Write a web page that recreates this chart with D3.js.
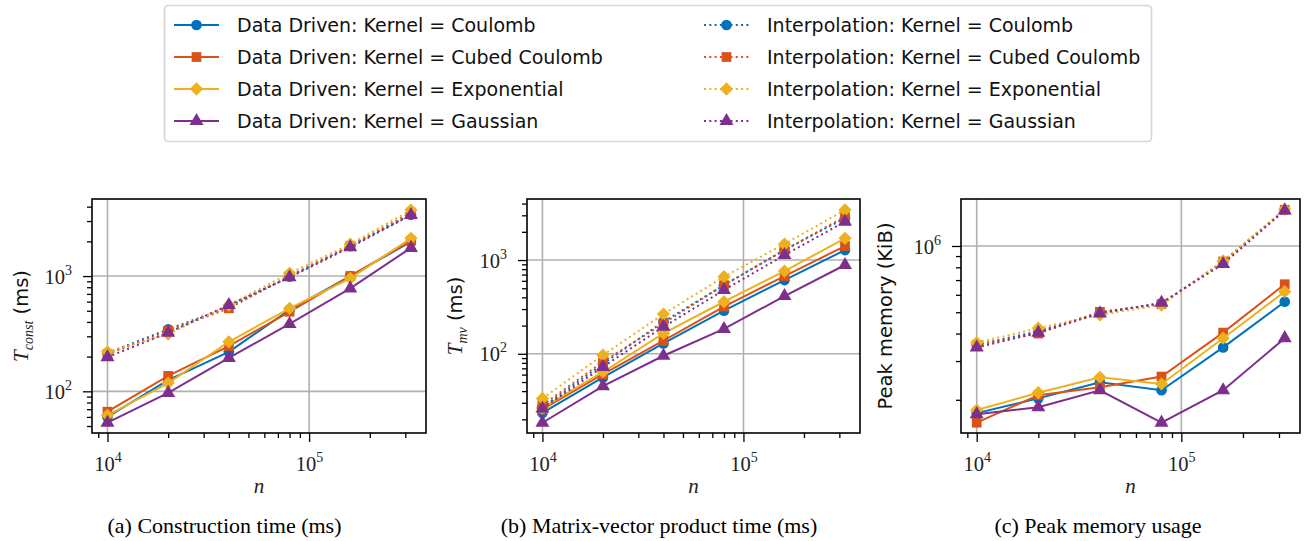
<!DOCTYPE html>
<html>
<head>
<meta charset="utf-8">
<script src="https://cdn.jsdelivr.net/npm/d3@7"></script>
<style>
  body { margin: 0; background: #fff; }
  .tick-label { font-family: 'Liberation Serif', serif; font-size: 20.5px; fill: #222; }
  .axis-label { font-family: 'Liberation Serif', serif; font-size: 21px; fill: #222; }
  .sans-label { font-family: 'DejaVu Sans', sans-serif; font-size: 19.5px; fill: #111; }
  .legend-text { font-family: 'DejaVu Sans', sans-serif; font-size: 19px; fill: #111; }
  .caption { font-family: 'Liberation Serif', serif; font-size: 22px; fill: #000; }
</style>
</head>
<body>
<svg width="1315" height="541"></svg>
<script>
const svg = d3.select('svg');

// problem sizes
const nValues = [1e4, 2e4, 4e4, 8e4, 1.6e5, 3.2e5];
const kernels = ['Coulomb', 'Cubed Coulomb', 'Exponential', 'Gaussian'];
const methods = ['Data Driven', 'Interpolation'];

// construction time (ms), one row per kernel
const constDataDriven = [
  [60, 125, 220, 510, 1000, 1986],
  [66.6, 136, 247, 490, 1000, 2023],
  [62, 118, 269, 525, 955, 2125],
  [53.5, 97, 195, 384, 782, 1757]
];
const constInterp = [
  [215, 345, 540, 990, 1820, 3400],
  [210, 335, 525, 1000, 1830, 3550],
  [220, 314, 560, 1055, 1890, 3735],
  [198, 322, 560, 975, 1775, 3380]
];

// matrix-vector product time (ms)
const mvDataDriven = [
  [23.4, 56, 129, 288, 612, 1278],
  [25.5, 60.7, 138, 318, 675, 1410],
  [26.5, 64, 165, 359, 763, 1703],
  [18.4, 45.2, 95.3, 184, 413, 885]
];
const mvInterp = [
  [27, 78, 220, 540, 1280, 2800],
  [28.4, 82, 211, 541, 1278, 2900],
  [33.4, 96.8, 265, 664, 1482, 3420],
  [26.1, 72.6, 194, 479, 1130, 2565]
];

// peak memory (KiB)
const memDataDriven = [
  [1.74e5, 2.03e5, 2.40e5, 2.21e5, 3.46e5, 5.58e5],
  [1.574e5, 2.10e5, 2.28e5, 2.55e5, 4.04e5, 6.7e5],
  [1.797e5, 2.153e5, 2.53e5, 2.36e5, 3.81e5, 6.2e5],
  [1.72e5, 1.85e5, 2.21e5, 1.574e5, 2.21e5, 3.81e5]
];
const memInterp = [
  [3.55e5, 4.1e5, 4.98e5, 5.47e5, 8.45e5, 1.46e6],
  [3.55e5, 4.0e5, 5.02e5, 5.45e5, 8.5e5, 1.46e6],
  [3.636e5, 4.23e5, 4.87e5, 5.39e5, 8.55e5, 1.47e6],
  [3.46e5, 4.04e5, 4.94e5, 5.52e5, 8.28e5, 1.45e6]
];

const colors = ['#0072BD', '#D95319', '#EDB120', '#7E2F8E'];
const symbols = [
  { type: d3.symbolCircle, size: 90, rotate: 0 },
  { type: d3.symbolSquare, size: 95, rotate: 0 },
  { type: d3.symbolSquare, size: 88, rotate: 45 },
  { type: d3.symbolTriangle, size: 85, rotate: 0 }
];

const plotTop = 199;
const plotBottom = 433;
const xDomain = [8380, 3.8e5];

const isMajor = v => Math.abs(Math.log10(v) - Math.round(Math.log10(v))) < 1e-9;

const powLabel = (sel, v) => {
  sel.append('tspan').text('10');
  sel.append('tspan')
    .attr('dy', -9)
    .style('font-size', '14px')
    .text(Math.round(Math.log10(v)));
};

const render = ({ left, right, yDomain, dd, interp, yLabel, caption }) => {
  const innerWidth = right - left;
  const innerHeight = plotBottom - plotTop;

  const xScale = d3.scaleLog().domain(xDomain).range([0, innerWidth]);
  const yScale = d3.scaleLog().domain(yDomain).range([innerHeight, 0]);

  const g = svg.append('g')
    .attr('transform', `translate(${left}, ${plotTop})`);

  const xTicks = xScale.ticks();
  const yTicks = yScale.ticks();

  // grid on major ticks
  g.selectAll('.gx').data(xTicks.filter(isMajor)).enter().append('line')
    .attr('x1', d => xScale(d)).attr('x2', d => xScale(d))
    .attr('y1', 0).attr('y2', innerHeight)
    .attr('stroke', '#b0b0b0').attr('stroke-width', 1.6);
  g.selectAll('.gy').data(yTicks.filter(isMajor)).enter().append('line')
    .attr('y1', d => yScale(d)).attr('y2', d => yScale(d))
    .attr('x1', 0).attr('x2', innerWidth)
    .attr('stroke', '#b0b0b0').attr('stroke-width', 1.6);

  // axes
  const xAxisGroup = g.append('g')
    .attr('transform', `translate(0, ${innerHeight})`)
    .call(d3.axisBottom(xScale).tickValues(xTicks).tickFormat('').tickSizeOuter(0));
  xAxisGroup.selectAll('.domain').remove();
  xAxisGroup.selectAll('.tick line')
    .attr('y2', d => isMajor(d) ? 9 : 5)
    .attr('stroke', '#000').attr('stroke-width', 1.3);
  xAxisGroup.selectAll('.tick').filter(isMajor).append('text')
    .attr('class', 'tick-label')
    .attr('y', 38)
    .attr('text-anchor', 'middle')
    .each(function (d) { powLabel(d3.select(this), d); });

  const yAxisGroup = g.append('g')
    .call(d3.axisLeft(yScale).tickValues(yTicks).tickFormat('').tickSizeOuter(0));
  yAxisGroup.selectAll('.domain').remove();
  yAxisGroup.selectAll('.tick line')
    .attr('x2', d => isMajor(d) ? -9 : -5)
    .attr('stroke', '#000').attr('stroke-width', 1.3);
  yAxisGroup.selectAll('.tick').filter(isMajor).append('text')
    .attr('class', 'tick-label')
    .attr('x', -20)
    .attr('dy', '0.35em')
    .attr('text-anchor', 'end')
    .each(function (d) { powLabel(d3.select(this), d); });

  // series: data driven first, interpolation on top
  const lineGenerator = d3.line()
    .x((d, i) => xScale(nValues[i]))
    .y(d => yScale(d));

  [dd, interp].forEach((set, m) => {
    set.forEach((values, k) => {
      g.append('path')
        .attr('d', lineGenerator(values))
        .attr('fill', 'none')
        .attr('stroke', colors[k])
        .attr('stroke-width', 2)
        .attr('stroke-dasharray', m === 1 ? '2,3.3' : null);
      const sym = d3.symbol().type(symbols[k].type).size(symbols[k].size);
      g.selectAll(null).data(values).enter().append('path')
        .attr('d', sym)
        .attr('transform', (d, i) =>
          `translate(${xScale(nValues[i])}, ${yScale(d)}) rotate(${symbols[k].rotate})`)
        .attr('fill', colors[k]);
    });
  });

  // frame
  g.append('rect')
    .attr('width', innerWidth).attr('height', innerHeight)
    .attr('fill', 'none').attr('stroke', '#000').attr('stroke-width', 1.6);

  // x label
  g.append('text')
    .attr('class', 'axis-label')
    .attr('x', innerWidth / 2)
    .attr('y', innerHeight + 60)
    .attr('text-anchor', 'middle')
    .style('font-style', 'italic')
    .text('n');

  // y label
  const yl = g.append('text')
    .attr('transform', `translate(${yLabel.x - left}, ${innerHeight / 2}) rotate(-90)`)
    .attr('text-anchor', 'middle');
  yLabel.parts.forEach(p => {
    const t = yl.append('tspan').attr('class', p.cls).text(p.text);
    if (p.italic) t.style('font-style', 'italic');
    if (p.sub) t.attr('dy', 5).style('font-size', '14px');
    if (p.back) t.attr('dy', -5);
  });

  // caption
  svg.append('text')
    .attr('class', 'caption')
    .attr('x', caption.x)
    .attr('y', 533)
    .attr('text-anchor', 'middle')
    .text(caption.text);
};

render({
  left: 92, right: 426, yDomain: [43.5, 4660],
  dd: constDataDriven, interp: constInterp,
  yLabel: { x: 28, parts: [
    { text: 'T', cls: 'axis-label', italic: true },
    { text: 'const', cls: 'axis-label', italic: true, sub: true },
    { text: ' (ms)', cls: 'sans-label', back: true }
  ] },
  caption: { x: 224.5, text: '(a) Construction time (ms)' }
});

render({
  left: 527, right: 860, yDomain: [14.3, 4477],
  dd: mvDataDriven, interp: mvInterp,
  yLabel: { x: 462, parts: [
    { text: 'T', cls: 'axis-label', italic: true },
    { text: 'mv', cls: 'axis-label', italic: true, sub: true },
    { text: ' (ms)', cls: 'sans-label', back: true }
  ] },
  caption: { x: 659, text: '(b) Matrix-vector product time (ms)' }
});

render({
  left: 961, right: 1300, yDomain: [1.413e5, 1.635e6],
  dd: memDataDriven, interp: memInterp,
  yLabel: { x: 892, parts: [
    { text: 'Peak memory (KiB)', cls: 'sans-label' }
  ] },
  caption: { x: 1098, text: '(c) Peak memory usage' }
});

// legend
const legend = svg.append('g');
legend.append('rect')
  .attr('x', 164.5).attr('y', 5.5)
  .attr('width', 987).attr('height', 136)
  .attr('rx', 4)
  .attr('fill', '#fff').attr('stroke', '#d5d5d5').attr('stroke-width', 1.6);

methods.forEach((method, m) => {
  kernels.forEach((kernel, k) => {
    const lx = m === 0 ? 174 : 704;
    const ly = 25 + k * 32;
    const row = legend.append('g').attr('transform', `translate(${lx}, ${ly})`);
    row.append('line')
      .attr('x1', 0).attr('x2', 45)
      .attr('stroke', colors[k]).attr('stroke-width', 2)
      .attr('stroke-dasharray', m === 1 ? '2,3.3' : null);
    row.append('path')
      .attr('d', d3.symbol().type(symbols[k].type).size(symbols[k].size))
      .attr('transform', `translate(22.5, 0) rotate(${symbols[k].rotate})`)
      .attr('fill', colors[k]);
    row.append('text')
      .attr('class', 'legend-text')
      .attr('x', 63)
      .attr('dy', '0.36em')
      .text(`${method}: Kernel = ${kernel}`);
  });
});
</script>
</body>
</html>
